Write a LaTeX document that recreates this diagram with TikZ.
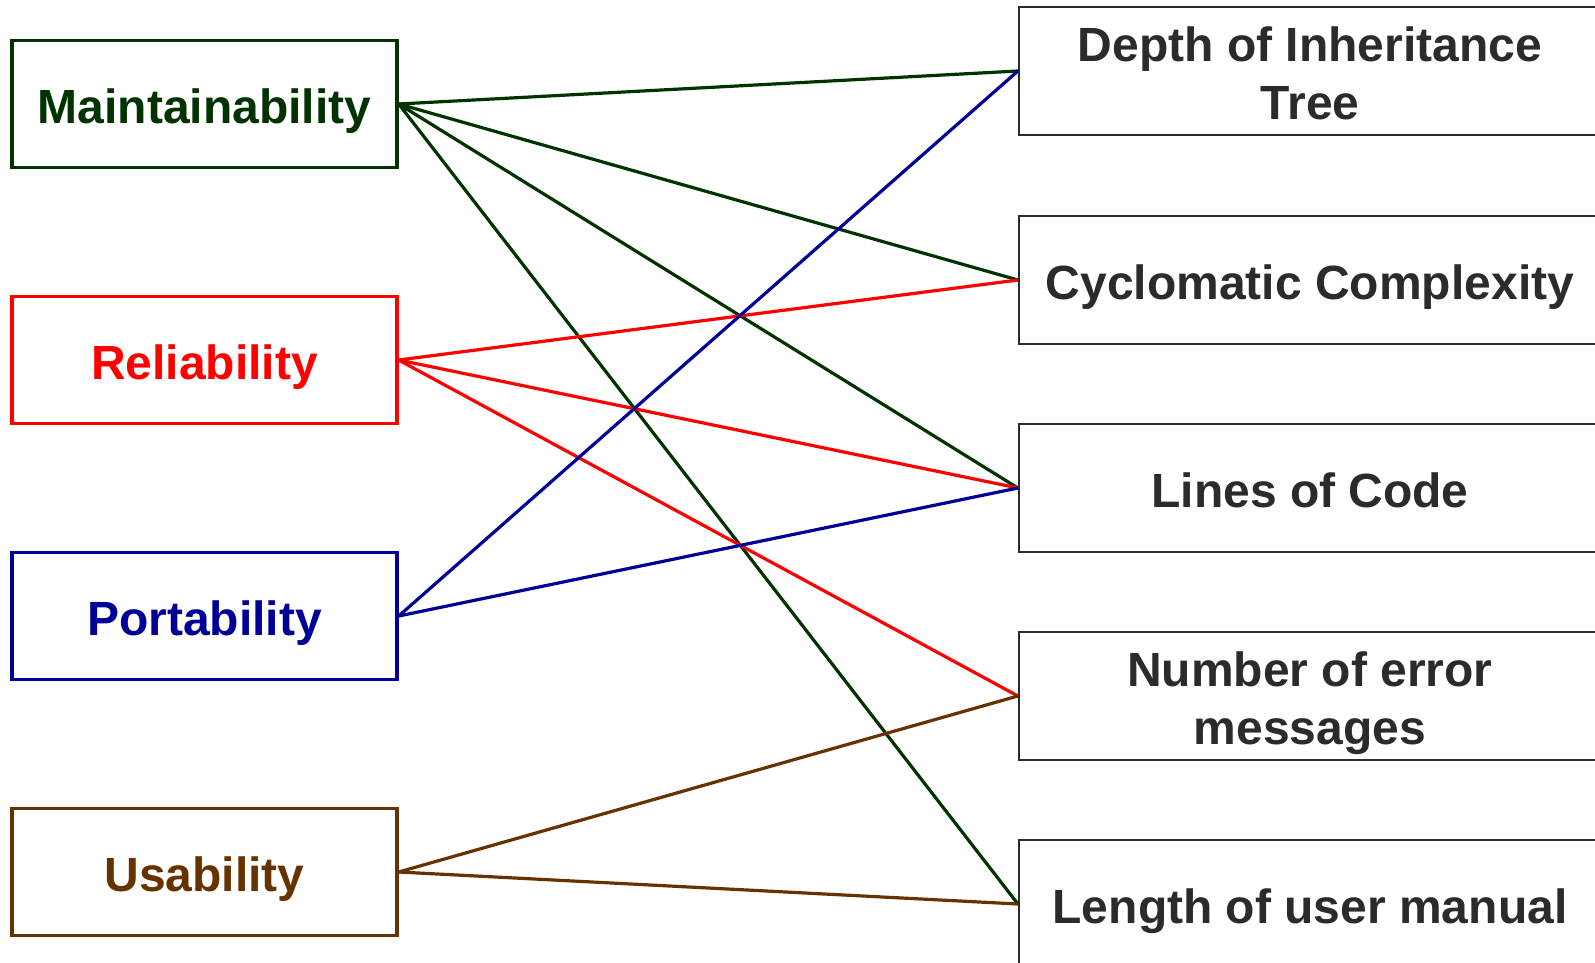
\documentclass[tikz,border=0pt]{standalone}
\usepackage{fontspec}
\setmainfont{Liberation Sans}
\definecolor{mgreen}{HTML}{003300}
\definecolor{mred}{HTML}{FF0000}
\definecolor{mblue}{HTML}{000099}
\definecolor{mbrown}{HTML}{663300}
\definecolor{mgray}{HTML}{2B2B2B}
\newcommand{\sline}[1]{\rule[-4.6pt]{0pt}{48.6pt}\smash{#1}}
\tikzset{
  leftbox/.style={draw, line width=3.4pt, minimum width=385pt, minimum height=127pt, inner sep=0pt,
    align=center, font=\bfseries\fontsize{48}{58}\selectfont},
  rightbox/.style={draw=mgray, line width=2.2pt, minimum width=582pt, minimum height=128pt, inner sep=0pt,
    align=center, text=mgray, font=\bfseries\fontsize{48}{58}\selectfont},
  conn/.style={line width=3.2pt}
}
\begin{document}
\begin{tikzpicture}[x=1pt,y=-1pt]
\useasboundingbox (0,0) rectangle (1595,963);
\clip (0,0) rectangle (1595,963);
\fill[white] (0,0) rectangle (1595,963);
% left nodes
\node[leftbox, draw=mgreen, text=mgreen] (mai) at (204.5,104) {\sline{Maintainability}};
\node[leftbox, draw=mred, text=mred] (rel) at (204.5,360) {\sline{Reliability}};
\node[leftbox, draw=mblue, text=mblue] (por) at (204.5,616) {\sline{Portability}};
\node[leftbox, draw=mbrown, text=mbrown] (usa) at (204.5,872) {\sline{Usability}};
% right nodes
\node[rightbox] (dit) at (1310,71) {\sline{Depth of Inheritance}\\\sline{Tree}};
\node[rightbox] (cyc) at (1310,280) {\sline{Cyclomatic Complexity}};
\node[rightbox] (loc) at (1310,488) {\sline{Lines of Code}};
\node[rightbox] (nem) at (1310,696) {\sline{Number of error}\\\sline{messages}};
\node[rightbox] (lum) at (1310,904) {\sline{Length of user manual}};
% connectors
\draw[conn, mgreen] (mai.east) -- (dit.west);
\draw[conn, mgreen] (mai.east) -- (cyc.west);
\draw[conn, mgreen] (mai.east) -- (loc.west);
\draw[conn, mgreen] (mai.east) -- (lum.west);
\draw[conn, mred] (rel.east) -- (cyc.west);
\draw[conn, mred] (rel.east) -- (loc.west);
\draw[conn, mred] (rel.east) -- (nem.west);
\draw[conn, mblue] (por.east) -- (dit.west);
\draw[conn, mblue] (por.east) -- (loc.west);
\draw[conn, mbrown] (usa.east) -- (nem.west);
\draw[conn, mbrown] (usa.east) -- (lum.west);
\end{tikzpicture}
\end{document}
